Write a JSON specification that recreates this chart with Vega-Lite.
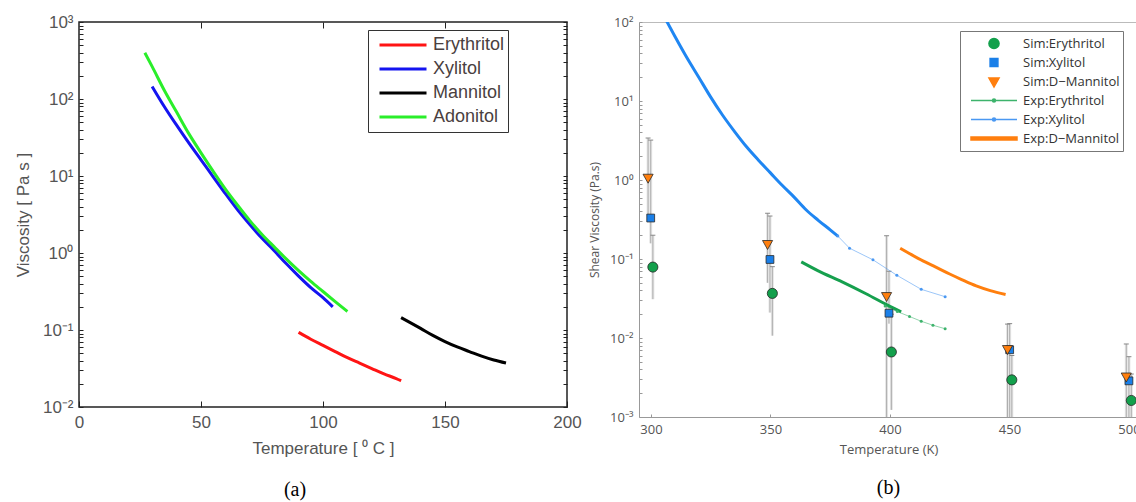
{
  "$schema": "https://vega.github.io/schema/vega-lite/v6.json",
  "background": "white",
  "padding": {"left": 13, "top": 12, "right": 0, "bottom": 0},
  "bounds": "flush",
  "spacing": 72,
  "config": {"view": {"stroke": null}, "axis": {"grid": false}, "font": "Liberation Sans"},
  "resolve": {"scale": {"color": "independent", "shape": "independent", "x": "independent", "y": "independent"}, "legend": {"color": "independent", "shape": "independent"}},
  "datasets": {
    "viscA": [
      {"material": "Erythritol", "T": 90, "eta": 0.0933},
      {"material": "Erythritol", "T": 95, "eta": 0.0759},
      {"material": "Erythritol", "T": 100, "eta": 0.0631},
      {"material": "Erythritol", "T": 105, "eta": 0.0525},
      {"material": "Erythritol", "T": 110, "eta": 0.0437},
      {"material": "Erythritol", "T": 115, "eta": 0.0372},
      {"material": "Erythritol", "T": 120, "eta": 0.0316},
      {"material": "Erythritol", "T": 125, "eta": 0.0269},
      {"material": "Erythritol", "T": 130, "eta": 0.0234},
      {"material": "Erythritol", "T": 132, "eta": 0.0219},
      {"material": "Xylitol", "T": 30, "eta": 145},
      {"material": "Xylitol", "T": 35, "eta": 79.4},
      {"material": "Xylitol", "T": 40, "eta": 45.7},
      {"material": "Xylitol", "T": 45, "eta": 26.9},
      {"material": "Xylitol", "T": 50, "eta": 16.2},
      {"material": "Xylitol", "T": 55, "eta": 9.77},
      {"material": "Xylitol", "T": 60, "eta": 5.89},
      {"material": "Xylitol", "T": 65, "eta": 3.63},
      {"material": "Xylitol", "T": 70, "eta": 2.34},
      {"material": "Xylitol", "T": 75, "eta": 1.55},
      {"material": "Xylitol", "T": 80, "eta": 1.07},
      {"material": "Xylitol", "T": 85, "eta": 0.724},
      {"material": "Xylitol", "T": 90, "eta": 0.501},
      {"material": "Xylitol", "T": 95, "eta": 0.355},
      {"material": "Xylitol", "T": 100, "eta": 0.263},
      {"material": "Xylitol", "T": 104, "eta": 0.2},
      {"material": "Mannitol", "T": 132, "eta": 0.145},
      {"material": "Mannitol", "T": 140, "eta": 0.105},
      {"material": "Mannitol", "T": 145, "eta": 0.0851},
      {"material": "Mannitol", "T": 150, "eta": 0.0708},
      {"material": "Mannitol", "T": 155, "eta": 0.0603},
      {"material": "Mannitol", "T": 160, "eta": 0.0525},
      {"material": "Mannitol", "T": 165, "eta": 0.0457},
      {"material": "Mannitol", "T": 170, "eta": 0.0407},
      {"material": "Mannitol", "T": 175, "eta": 0.0372},
      {"material": "Adonitol", "T": 27, "eta": 398},
      {"material": "Adonitol", "T": 30, "eta": 263},
      {"material": "Adonitol", "T": 35, "eta": 129},
      {"material": "Adonitol", "T": 40, "eta": 67.6},
      {"material": "Adonitol", "T": 45, "eta": 35.5},
      {"material": "Adonitol", "T": 50, "eta": 20.0},
      {"material": "Adonitol", "T": 55, "eta": 11.5},
      {"material": "Adonitol", "T": 60, "eta": 6.76},
      {"material": "Adonitol", "T": 65, "eta": 4.17},
      {"material": "Adonitol", "T": 70, "eta": 2.63},
      {"material": "Adonitol", "T": 75, "eta": 1.74},
      {"material": "Adonitol", "T": 80, "eta": 1.20},
      {"material": "Adonitol", "T": 85, "eta": 0.832},
      {"material": "Adonitol", "T": 90, "eta": 0.589},
      {"material": "Adonitol", "T": 95, "eta": 0.427},
      {"material": "Adonitol", "T": 100, "eta": 0.316},
      {"material": "Adonitol", "T": 105, "eta": 0.234},
      {"material": "Adonitol", "T": 110, "eta": 0.174}
    ],
    "fitB": [
      {"material": "Xylitol", "T": 305, "v": 126},
      {"material": "Xylitol", "T": 310, "v": 66},
      {"material": "Xylitol", "T": 315, "v": 35.5},
      {"material": "Xylitol", "T": 320, "v": 20},
      {"material": "Xylitol", "T": 325, "v": 11.2},
      {"material": "Xylitol", "T": 330, "v": 6.6},
      {"material": "Xylitol", "T": 335, "v": 4.1},
      {"material": "Xylitol", "T": 340, "v": 2.63},
      {"material": "Xylitol", "T": 345, "v": 1.78},
      {"material": "Xylitol", "T": 350, "v": 1.23},
      {"material": "Xylitol", "T": 355, "v": 0.851},
      {"material": "Xylitol", "T": 360, "v": 0.603},
      {"material": "Xylitol", "T": 365, "v": 0.417},
      {"material": "Xylitol", "T": 370, "v": 0.309},
      {"material": "Xylitol", "T": 375, "v": 0.234},
      {"material": "Xylitol", "T": 378.2, "v": 0.195},
      {"material": "Erythritol", "T": 362.9, "v": 0.092},
      {"material": "Erythritol", "T": 370, "v": 0.0708},
      {"material": "Erythritol", "T": 380, "v": 0.0513},
      {"material": "Erythritol", "T": 390, "v": 0.0363},
      {"material": "Erythritol", "T": 400, "v": 0.0251},
      {"material": "Erythritol", "T": 404.7, "v": 0.0214}
    ],
    "expThin": [
      {"series": "Exp:Erythritol", "T": 398, "v": 0.0255},
      {"series": "Exp:Erythritol", "T": 403.1, "v": 0.0216},
      {"series": "Exp:Erythritol", "T": 408.2, "v": 0.0187},
      {"series": "Exp:Erythritol", "T": 413.1, "v": 0.0163},
      {"series": "Exp:Erythritol", "T": 418, "v": 0.0145},
      {"series": "Exp:Erythritol", "T": 423.1, "v": 0.0131},
      {"series": "Exp:Xylitol", "T": 378.2, "v": 0.195},
      {"series": "Exp:Xylitol", "T": 383.1, "v": 0.137},
      {"series": "Exp:Xylitol", "T": 392.9, "v": 0.0977},
      {"series": "Exp:Xylitol", "T": 402.9, "v": 0.0622},
      {"series": "Exp:Xylitol", "T": 413.1, "v": 0.0413},
      {"series": "Exp:Xylitol", "T": 423.1, "v": 0.0333}
    ],
    "expMannitol": [
      {"series": "Exp:D−Mannitol", "T": 404.3, "v": 0.137},
      {"series": "Exp:D−Mannitol", "T": 409, "v": 0.1135},
      {"series": "Exp:D−Mannitol", "T": 413.8, "v": 0.0946},
      {"series": "Exp:D−Mannitol", "T": 419, "v": 0.0794},
      {"series": "Exp:D−Mannitol", "T": 425, "v": 0.0646},
      {"series": "Exp:D−Mannitol", "T": 430, "v": 0.055},
      {"series": "Exp:D−Mannitol", "T": 436.1, "v": 0.0457},
      {"series": "Exp:D−Mannitol", "T": 442, "v": 0.0398},
      {"series": "Exp:D−Mannitol", "T": 448.4, "v": 0.0356}
    ],
    "simB": [
      {"series": "Sim:Erythritol", "T": 300.8, "v": 0.079, "lo": 0.031, "hi": 0.2},
      {"series": "Sim:Xylitol", "T": 299.9, "v": 0.33, "lo": 0.158, "hi": 3.2},
      {"series": "Sim:D−Mannitol", "T": 298.8, "v": 1.07, "lo": 0.35, "hi": 3.4},
      {"series": "Sim:Erythritol", "T": 350.8, "v": 0.0367, "lo": 0.0107, "hi": 0.08},
      {"series": "Sim:Xylitol", "T": 349.8, "v": 0.0986, "lo": 0.021, "hi": 0.35},
      {"series": "Sim:D−Mannitol", "T": 348.8, "v": 0.155, "lo": 0.05, "hi": 0.38},
      {"series": "Sim:Erythritol", "T": 400.6, "v": 0.00665, "lo": 0.00123, "hi": 0.02},
      {"series": "Sim:Xylitol", "T": 399.6, "v": 0.0206, "lo": 0.0152, "hi": 0.07},
      {"series": "Sim:D−Mannitol", "T": 398.6, "v": 0.034, "lo": 0.001, "hi": 0.197},
      {"series": "Sim:Erythritol", "T": 451, "v": 0.00295, "lo": 0.001, "hi": 0.006},
      {"series": "Sim:Xylitol", "T": 450.1, "v": 0.0071, "lo": 0.001, "hi": 0.0152},
      {"series": "Sim:D−Mannitol", "T": 449.2, "v": 0.00726, "lo": 0.001, "hi": 0.015},
      {"series": "Sim:Erythritol", "T": 501, "v": 0.00162, "lo": 0.001, "hi": 0.0035},
      {"series": "Sim:Xylitol", "T": 500, "v": 0.00287, "lo": 0.001, "hi": 0.0058},
      {"series": "Sim:D−Mannitol", "T": 498.9, "v": 0.00326, "lo": 0.001, "hi": 0.0084}
    ]
  },
  "hconcat": [
    {
      "width": 488,
      "height": 385,
      "title": {"text": "(a)", "orient": "bottom", "anchor": "middle", "font": "Liberation Serif", "fontSize": 20, "fontWeight": "normal", "color": "#000", "dx": -28, "offset": 24},
      "view": {"stroke": "#222", "strokeWidth": 1.5},
      "data": {"name": "viscA"},
      "resolve": {"axis": {"x": "independent", "y": "independent"}},
      "layer": [
        {
          "mark": {"type": "line", "strokeWidth": 3, "clip": true, "interpolate": "monotone"},
          "encoding": {
            "x": {"field": "T", "type": "quantitative", "scale": {"domain": [0, 200], "nice": false, "zero": false},
              "axis": {"orient": "bottom", "values": [0, 50, 100, 150, 200], "tickSize": -6, "tickColor": "#222", "labelPadding": 13, "domain": false, "labelFont": "Liberation Sans", "labelFontSize": 17, "labelColor": "#555", "title": "Temperature  [ ⁰ C ]", "titleFont": "Liberation Sans", "titleFontSize": 17, "titleFontWeight": "normal", "titleColor": "#555", "titlePadding": 10, "labelOverlap": false, "labelBound": false, "labelFlush": false}},
            "y": {"field": "eta", "type": "quantitative", "scale": {"type": "log", "domain": [0.01, 1000], "nice": false},
              "axis": {"orient": "left", "values": [0.01,0.02,0.03,0.04,0.05,0.06,0.07,0.08,0.09,0.1,0.2,0.3,0.4,0.5,0.6,0.7,0.8,0.9,1,2,3,4,5,6,7,8,9,10,20,30,40,50,60,70,80,90,100,200,300,400,500,600,700,800,900,1000],
                "labelExpr": "datum.value === 0.01 ? '10⁻²' : datum.value === 0.1 ? '10⁻¹' : datum.value === 1 ? '10⁰' : datum.value === 10 ? '10¹' : datum.value === 100 ? '10²' : datum.value === 1000 ? '10³' : ''",
                "tickSize": -4, "tickColor": "#222", "labelPadding": 10, "domain": false, "labelFont": "Liberation Sans", "labelFontSize": 17, "labelColor": "#555", "title": "Viscosity  [ Pa s ]", "titleFont": "Liberation Sans", "titleFontSize": 17, "titleFontWeight": "normal", "titleColor": "#555", "titlePadding": 10, "labelOverlap": false, "labelBound": false, "labelFlush": false}},
            "color": {"field": "material", "type": "nominal",
              "scale": {"domain": ["Erythritol", "Xylitol", "Mannitol", "Adonitol"], "range": ["#ff1414", "#1414f0", "#000000", "#2aee2a"]},
              "legend": {"orient": "none", "legendX": 289, "legendY": 8, "title": null, "padding": 3, "strokeColor": "#333", "fillColor": "white", "symbolType": "stroke", "symbolSize": 2209, "symbolStrokeWidth": 3, "clipHeight": 24, "rowPadding": 0, "symbolOffset": 7, "labelOffset": 5, "labelFont": "Liberation Sans", "labelFontSize": 18, "labelColor": "#4a4040",
                "labelExpr": "datum.label + '\u00a0\u00a0\u00a0\u00a0\u00a0\u00a0\u00a0\u00a0\u00a0\u00a0\u00a0'"}}
          }
        },
        {
          "mark": {"type": "line", "opacity": 0},
          "encoding": {
            "x": {"field": "T", "type": "quantitative", "scale": {"domain": [0, 200], "nice": false, "zero": false},
              "axis": {"orient": "top", "values": [50, 100, 150], "tickSize": -6, "tickColor": "#222", "labels": false, "domain": false, "title": null}},
            "y": {"field": "eta", "type": "quantitative", "scale": {"type": "log", "domain": [0.01, 1000], "nice": false},
              "axis": {"orient": "right", "values": [0.01,0.02,0.03,0.04,0.05,0.06,0.07,0.08,0.09,0.1,0.2,0.3,0.4,0.5,0.6,0.7,0.8,0.9,1,2,3,4,5,6,7,8,9,10,20,30,40,50,60,70,80,90,100,200,300,400,500,600,700,800,900,1000], "tickSize": -4, "tickColor": "#222", "labels": false, "domain": false, "title": null}},
            "detail": {"field": "material", "type": "nominal"}
          }
        }
      ]
    },
    {
      "width": 499,
      "height": 395,
      "title": {"text": "(b)", "orient": "bottom", "anchor": "middle", "font": "Liberation Serif", "fontSize": 20, "fontWeight": "normal", "color": "#000", "offset": 22},
      "resolve": {"axis": {"x": "independent"}},
      "layer": [
        {
          "data": {"name": "simB"},
          "mark": {"type": "rule", "strokeWidth": 3, "color": "#e6e6e6"},
          "encoding": {
            "x": {"field": "T", "type": "quantitative", "scale": {"domain": [295, 503.8], "nice": false, "zero": false},
              "axis": {"orient": "bottom", "values": [300, 350, 400, 450, 500], "tickSize": -3, "tickColor": "#999", "domainColor": "#999", "labelPadding": 9, "labelFont": "Open Sans", "labelFontSize": 13, "labelColor": "#555", "title": "Temperature (K)", "titleFont": "Open Sans", "titleFontSize": 13, "titleFontWeight": "normal", "titleColor": "#555", "titlePadding": 7, "labelOverlap": false, "labelFlush": false}},
            "y": {"field": "lo", "type": "quantitative", "scale": {"type": "log", "domain": [0.001, 100], "nice": false},
              "axis": {"orient": "left", "values": [0.001,0.002,0.003,0.004,0.005,0.006,0.007,0.008,0.009,0.01,0.02,0.03,0.04,0.05,0.06,0.07,0.08,0.09,0.1,0.2,0.3,0.4,0.5,0.6,0.7,0.8,0.9,1,2,3,4,5,6,7,8,9,10,20,30,40,50,60,70,80,90,100],
                "labelExpr": "datum.value === 0.001 ? '10⁻³' : datum.value === 0.01 ? '10⁻²' : datum.value === 0.1 ? '10⁻¹' : datum.value === 1 ? '10⁰' : datum.value === 10 ? '10¹' : datum.value === 100 ? '10²' : ''",
                "tickSize": -3, "tickColor": "#999", "domainColor": "#999", "labelPadding": 9, "labelFont": "Open Sans", "labelFontSize": 13, "labelColor": "#555", "title": "Shear Viscosity (Pa.s)", "titleFont": "Open Sans", "titleFontSize": 12, "titleFontWeight": "normal", "titleColor": "#555", "titlePadding": 8, "labelOverlap": false, "labelBound": false, "labelFlush": false}},
            "y2": {"field": "hi"}
          }
        },
        {
          "data": {"name": "simB"},
          "mark": {"type": "rule", "strokeWidth": 0.8, "color": "#a0a0a0"},
          "encoding": {
            "x": {"field": "T", "type": "quantitative", "scale": {"domain": [295, 503.8], "nice": false, "zero": false}, "axis": null},
            "y": {"field": "lo", "type": "quantitative", "scale": {"type": "log", "domain": [0.001, 100], "nice": false}},
            "y2": {"field": "hi"}
          }
        },
        {
          "data": {"name": "simB"},
          "mark": {"type": "tick", "orient": "horizontal", "size": 5, "thickness": 1, "color": "#888", "opacity": 1},
          "encoding": {
            "x": {"field": "T", "type": "quantitative", "scale": {"domain": [295, 503.8], "nice": false, "zero": false}, "axis": null},
            "y": {"field": "hi", "type": "quantitative", "scale": {"type": "log", "domain": [0.001, 100], "nice": false}}
          }
        },
        {
          "data": {"name": "fitB"},
          "transform": [{"filter": "datum.material === 'Xylitol'"}],
          "mark": {"type": "line", "strokeWidth": 3, "color": "#1f86f2", "clip": true, "interpolate": "monotone"},
          "encoding": {
            "x": {"field": "T", "type": "quantitative", "scale": {"domain": [295, 503.8], "nice": false, "zero": false}, "axis": null},
            "y": {"field": "v", "type": "quantitative", "scale": {"type": "log", "domain": [0.001, 100], "nice": false}}
          }
        },
        {
          "data": {"name": "fitB"},
          "transform": [{"filter": "datum.material === 'Erythritol'"}],
          "mark": {"type": "line", "strokeWidth": 3, "color": "#16a04e", "clip": true, "interpolate": "monotone"},
          "encoding": {
            "x": {"field": "T", "type": "quantitative", "scale": {"domain": [295, 503.8], "nice": false, "zero": false}, "axis": null},
            "y": {"field": "v", "type": "quantitative", "scale": {"type": "log", "domain": [0.001, 100], "nice": false}}
          }
        },
        {
          "data": {"name": "expMannitol"},
          "mark": {"type": "line", "strokeWidth": 3, "clip": true, "interpolate": "monotone"},
          "encoding": {
            "x": {"field": "T", "type": "quantitative", "scale": {"domain": [295, 503.8], "nice": false, "zero": false}, "axis": null},
            "y": {"field": "v", "type": "quantitative", "scale": {"type": "log", "domain": [0.001, 100], "nice": false}},
            "color": {"field": "series", "type": "nominal", "scale": {"domain": ["Sim:Erythritol", "Sim:Xylitol", "Sim:D−Mannitol", "Exp:Erythritol", "Exp:Xylitol", "Exp:D−Mannitol"], "range": ["#13a04c", "#1a7fe8", "#ff7f0e", "#3db36c", "#4a98f2", "#ff7f0e"]}}
          }
        },
        {
          "data": {"name": "expThin"},
          "mark": {"type": "line", "strokeWidth": 1, "strokeOpacity": 0.55, "clip": true, "point": {"filled": true, "size": 9, "opacity": 1}},
          "encoding": {
            "x": {"field": "T", "type": "quantitative", "scale": {"domain": [295, 503.8], "nice": false, "zero": false}, "axis": null},
            "y": {"field": "v", "type": "quantitative", "scale": {"type": "log", "domain": [0.001, 100], "nice": false}},
            "color": {"field": "series", "type": "nominal", "scale": {"domain": ["Sim:Erythritol", "Sim:Xylitol", "Sim:D−Mannitol", "Exp:Erythritol", "Exp:Xylitol", "Exp:D−Mannitol"], "range": ["#13a04c", "#1a7fe8", "#ff7f0e", "#3db36c", "#4a98f2", "#ff7f0e"]}}
          }
        },
        {
          "data": {"name": "simB"},
          "mark": {"type": "point", "filled": true, "size": 2116, "opacity": 1, "stroke": "#2a2a2a", "strokeWidth": 0.8},
          "encoding": {
            "x": {"field": "T", "type": "quantitative", "scale": {"domain": [295, 503.8], "nice": false, "zero": false},
              "axis": {"orient": "top", "ticks": false, "labels": false, "domain": true, "domainColor": "#bbb", "title": null}},
            "y": {"field": "v", "type": "quantitative", "scale": {"type": "log", "domain": [0.001, 100], "nice": false}},
            "color": {"field": "series", "type": "nominal",
              "scale": {"domain": ["Sim:Erythritol", "Sim:Xylitol", "Sim:D−Mannitol", "Exp:Erythritol", "Exp:Xylitol", "Exp:D−Mannitol"], "range": ["#13a04c", "#1a7fe8", "#ff7f0e", "#3db36c", "#4a98f2", "#ff7f0e"]},
              "legend": {"orient": "none", "legendX": 321, "legendY": 9, "title": null, "padding": 3, "strokeColor": "#777", "fillColor": "white", "symbolSize": 2116, "clipHeight": 19, "rowPadding": 0, "symbolOffset": 7, "labelOffset": 5, "labelFont": "Open Sans", "labelFontSize": 13, "labelColor": "#333",
                "labelExpr": "datum.label + '\u00a0\u00a0\u00a0\u00a0\u00a0\u00a0\u00a0'",
                "encode": {"symbols": {
                  "fill": {"value": {"expr": "datum.value === 'Sim:Erythritol' ? '#13a04c' : datum.value === 'Sim:Xylitol' ? '#1a7fe8' : datum.value === 'Sim:D−Mannitol' ? '#ff7f0e' : datum.value === 'Exp:Erythritol' ? '#2fae62' : datum.value === 'Exp:Xylitol' ? '#3f8ff0' : 'transparent'"}},
                  "stroke": {"value": {"expr": "datum.value === 'Exp:Erythritol' ? '#93d6ad' : datum.value === 'Exp:Xylitol' ? '#a3cbf8' : datum.value === 'Exp:D−Mannitol' ? '#ff7f0e' : '#2a2a2a'"}},
                  "strokeWidth": {"value": {"expr": "datum.value === 'Exp:D−Mannitol' ? 3 : datum.value === 'Exp:Erythritol' || datum.value === 'Exp:Xylitol' ? 1.2 : 0.8"}},
                  "opacity": {"value": 1}
                }}}},
            "shape": {"field": "series", "type": "nominal",
              "scale": {"domain": ["Sim:Erythritol", "Sim:Xylitol", "Sim:D−Mannitol", "Exp:Erythritol", "Exp:Xylitol", "Exp:D−Mannitol"],
                "range": ["M-0.22,0A0.22,0.22,0,1,0,0.22,0A0.22,0.22,0,1,0,-0.22,0Z", "M-0.17,-0.17H0.17V0.17H-0.17Z", "M-0.22,-0.15L0.22,-0.15L0,0.24Z", "M-1,0H1M-0.065,0A0.065,0.065,0,1,0,0.065,0A0.065,0.065,0,1,0,-0.065,0Z", "M-1,0H1M-0.065,0A0.065,0.065,0,1,0,0.065,0A0.065,0.065,0,1,0,-0.065,0Z", "M-1,-0.06H1V0.06H-1Z"]},
              "legend": {"orient": "none", "legendX": 321, "legendY": 9, "title": null, "padding": 3, "strokeColor": "#777", "fillColor": "white", "symbolSize": 2116, "clipHeight": 19, "rowPadding": 0, "symbolOffset": 7, "labelOffset": 5, "labelFont": "Open Sans", "labelFontSize": 13, "labelColor": "#333",
                "labelExpr": "datum.label + '\u00a0\u00a0\u00a0\u00a0\u00a0\u00a0\u00a0'",
                "encode": {"symbols": {
                  "fill": {"value": {"expr": "datum.value === 'Sim:Erythritol' ? '#13a04c' : datum.value === 'Sim:Xylitol' ? '#1a7fe8' : datum.value === 'Sim:D−Mannitol' ? '#ff7f0e' : datum.value === 'Exp:Erythritol' ? '#2fae62' : datum.value === 'Exp:Xylitol' ? '#3f8ff0' : 'transparent'"}},
                  "stroke": {"value": {"expr": "datum.value === 'Exp:Erythritol' ? '#93d6ad' : datum.value === 'Exp:Xylitol' ? '#a3cbf8' : datum.value === 'Exp:D−Mannitol' ? '#ff7f0e' : '#2a2a2a'"}},
                  "strokeWidth": {"value": {"expr": "datum.value === 'Exp:D−Mannitol' ? 3 : datum.value === 'Exp:Erythritol' || datum.value === 'Exp:Xylitol' ? 1.2 : 0.8"}},
                  "opacity": {"value": 1}
                }}}}
          }
        }
      ]
    }
  ]
}
